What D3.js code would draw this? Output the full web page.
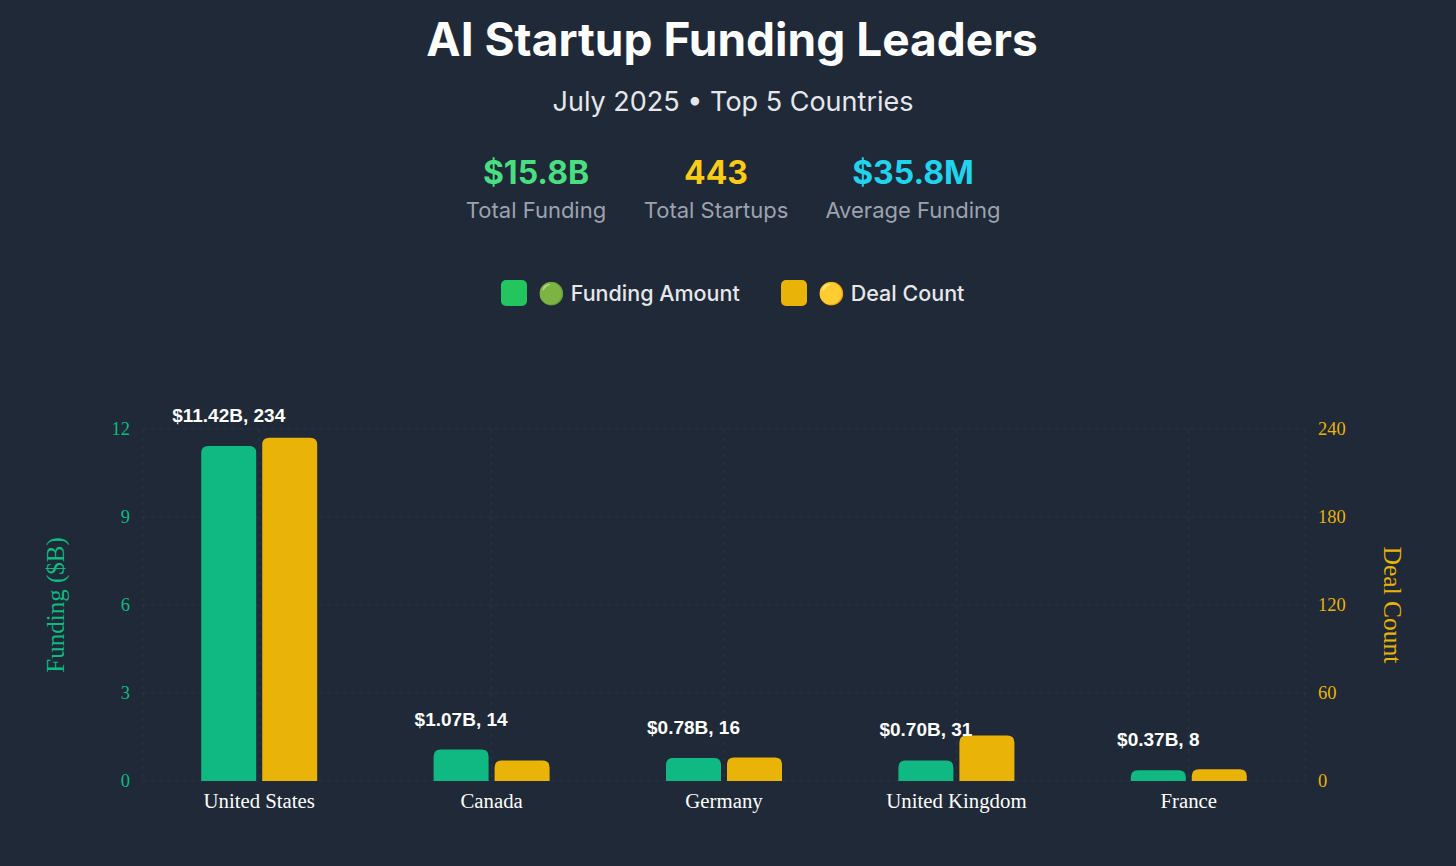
<!DOCTYPE html>
<html>
<head>
<meta charset="utf-8">
<script src="https://cdn.jsdelivr.net/npm/d3@7"></script>
<style>
  html, body { margin: 0; padding: 0; background: #1f2937; }
  svg { display: block; }
</style>
</head>
<body>
<svg id="chart" width="1456" height="866"></svg>
<script>
const countries = ["United States", "Canada", "Germany", "United Kingdom", "France"];
const funding = [11.42, 1.07, 0.78, 0.70, 0.37];
const deals = [234, 14, 16, 31, 8];
const fundingTicks = [0, 3, 6, 9, 12];
const dealTicks = [0, 60, 120, 180, 240];
const statValues = ["$15.8B", "443", "$35.8M"];
const statLabels = ["Total Funding", "Total Startups", "Average Funding"];
const legendLabels = ["🟢 Funding Amount", "🟡 Deal Count"];

(function () {
const svg = d3.select("#chart");
const W = 1456, H = 866;
svg.append("rect").attr("width", W).attr("height", H).attr("fill", "#1f2937");

// Header
svg.append("text").attr("x", 732).attr("y", 56).attr("text-anchor", "middle")
  .attr("font-family", "Inter, 'Open Sans', sans-serif").attr("font-weight", 700)
  .attr("font-size", 46).attr("fill", "#ffffff")
  .text("AI Startup Funding Leaders");
svg.append("text").attr("x", 733).attr("y", 111).attr("text-anchor", "middle")
  .attr("font-family", "Inter, 'Open Sans', sans-serif").attr("font-weight", 400)
  .attr("font-size", 27).attr("fill", "#e5e7eb")
  .text("July 2025 • Top 5 Countries");

const statCenters = [536, 716, 913];
const statColors = ["#4ade80", "#facc15", "#22d3ee"];
statValues.forEach((v, i) => {
  svg.append("text").attr("x", statCenters[i]).attr("y", 184).attr("text-anchor", "middle")
    .attr("font-family", "Inter, 'Open Sans', sans-serif").attr("font-weight", 700)
    .attr("font-size", 32).attr("fill", statColors[i]).text(v);
  svg.append("text").attr("x", statCenters[i]).attr("y", 218).attr("text-anchor", "middle")
    .attr("font-family", "Inter, 'Open Sans', sans-serif").attr("font-weight", 400)
    .attr("font-size", 22).attr("fill", "#9ca3af").text(statLabels[i]);
});

// Legend
const legendX = [501, 781];
const legendColors = ["#22c55e", "#eab308"];
legendLabels.forEach((l, i) => {
  svg.append("rect").attr("x", legendX[i]).attr("y", 280).attr("width", 26).attr("height", 26)
    .attr("rx", 5).attr("fill", legendColors[i]);
  svg.append("text").attr("x", legendX[i] + 37).attr("y", 301)
    .attr("font-family", "Inter, 'Open Sans', sans-serif").attr("font-weight", 500)
    .attr("font-size", 21.5).attr("fill", "#e5e7eb")
    .text(l);
});

// Chart
const pL = 143, pR = 1305, pT = 429, pB = 781;
const x = d3.scaleBand().domain(countries).range([pL, pR]);
const yL = d3.scaleLinear().domain([0, 12]).range([pB, pT]);
const yR = d3.scaleLinear().domain([0, 240]).range([pB, pT]);

const grid = svg.append("g").attr("stroke", "#334155").attr("stroke-opacity", 0.55)
  .attr("stroke-dasharray", "4,4").attr("stroke-width", 1);
fundingTicks.forEach(t => {
  grid.append("line").attr("x1", pL).attr("x2", pR).attr("y1", yL(t)).attr("y2", yL(t));
});
grid.append("line").attr("x1", pL).attr("x2", pL).attr("y1", pT).attr("y2", pB);
grid.append("line").attr("x1", pR).attr("x2", pR).attr("y1", pT).attr("y2", pB);
countries.forEach(c => {
  const cx = x(c) + x.bandwidth() / 2;
  grid.append("line").attr("x1", cx).attr("x2", cx).attr("y1", pT).attr("y2", pB);
});

function topRounded(x0, y0, w, h, r) {
  r = Math.min(r, h, w / 2);
  return `M${x0},${y0 + h}V${y0 + r}Q${x0},${y0} ${x0 + r},${y0}H${x0 + w - r}Q${x0 + w},${y0} ${x0 + w},${y0 + r}V${y0 + h}Z`;
}

const barW = 55, gap = 3;
countries.forEach((c, i) => {
  const cx = x(c) + x.bandwidth() / 2;
  const gx = cx - gap - barW;
  const yx = cx + gap;
  const gy = yL(funding[i]);
  const yy = yR(deals[i]);
  svg.append("path").attr("d", topRounded(gx, gy, barW, pB - gy, 7)).attr("fill", "#10b981");
  svg.append("path").attr("d", topRounded(yx, yy, barW, pB - yy, 7)).attr("fill", "#eab308");
  svg.append("text").attr("x", gx + barW / 2).attr("y", gy - 24).attr("text-anchor", "middle")
    .attr("font-family", "'Liberation Sans', Arial, sans-serif").attr("font-weight", 700)
    .attr("font-size", 19).attr("fill", "#ffffff")
    .text(`$${funding[i].toFixed(2)}B, ${deals[i]}`);
});

// Axes
const axL = svg.append("g").attr("transform", `translate(${pL - 10},0)`)
  .call(d3.axisLeft(yL).tickValues(fundingTicks).tickSize(0).tickPadding(3));
axL.select(".domain").remove();
axL.selectAll("text").attr("font-family", "'Liberation Serif', 'Times New Roman', serif")
  .attr("font-size", 18.5).attr("fill", "#10b981");

const axR = svg.append("g").attr("transform", `translate(${pR + 10},0)`)
  .call(d3.axisRight(yR).tickValues(dealTicks).tickSize(0).tickPadding(3));
axR.select(".domain").remove();
axR.selectAll("text").attr("font-family", "'Liberation Serif', 'Times New Roman', serif")
  .attr("font-size", 18.5).attr("fill", "#eab308");

const axB = svg.append("g").attr("transform", `translate(0,${pB})`)
  .call(d3.axisBottom(x).tickSize(0).tickPadding(12));
axB.select(".domain").remove();
axB.selectAll("text").attr("font-family", "'Liberation Serif', 'Times New Roman', serif")
  .attr("font-size", 20.8).attr("fill", "#ffffff");

svg.append("text").attr("transform", `translate(64,${(pT + pB) / 2}) rotate(-90)`)
  .attr("text-anchor", "middle").attr("font-family", "'Liberation Serif', 'Times New Roman', serif")
  .attr("font-size", 25).attr("fill", "#10b981").text("Funding ($B)");
svg.append("text").attr("transform", `translate(1384,${(pT + pB) / 2}) rotate(90)`)
  .attr("text-anchor", "middle").attr("font-family", "'Liberation Serif', 'Times New Roman', serif")
  .attr("font-size", 25.5).attr("fill", "#eab308").text("Deal Count");
})();
</script>
</body>
</html>
